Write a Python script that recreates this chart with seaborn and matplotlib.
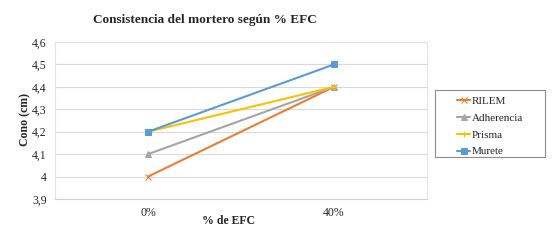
import pandas as pd
import numpy as np
import matplotlib.pyplot as plt
import seaborn as sns
from matplotlib.patches import Rectangle

# Datos
categorias = ["0%", "40%"]
rilem = [4.0, 4.4]
adherencia = [4.1, 4.4]
prisma = [4.2, 4.4]
murete = [4.2, 4.5]

series = {"RILEM": rilem, "Adherencia": adherencia, "Prisma": prisma, "Murete": murete}
colores = {"RILEM": "#ED7D31", "Adherencia": "#A5A5A5", "Prisma": "#FFC000", "Murete": "#5B9BD5"}
marcadores = {"RILEM": "x", "Adherencia": "^", "Prisma": "+", "Murete": "s"}

sns.set_theme(style="white")
plt.rcParams["font.family"] = ["Liberation Serif", "DejaVu Serif"]

fig = plt.figure(figsize=(5.57, 2.42), dpi=100)
ax = fig.add_axes([0.0987, 0.1777, 0.668, 0.6487])

# una serie a la vez (seaborn no mezcla marcadores rellenos y de línea)
for nombre, valores in series.items():
    d = pd.DataFrame({"pos": range(len(valores)), "valor": valores})
    sns.lineplot(
        data=d, x="pos", y="valor", color=colores[nombre], marker=marcadores[nombre],
        markersize=5, markeredgecolor=colores[nombre], linewidth=1.5,
        label=nombre, ax=ax,
    )

ax.set_xlim(-0.5, 1.5)
ax.set_ylim(3.9, 4.6)
ax.set_xticks(range(len(categorias)))
ax.set_xticklabels(categorias, fontsize=8.5)
yt = np.round(np.arange(3.9, 4.61, 0.1), 1)
ax.set_yticks(yt)
ax.set_yticklabels([f"{v:g}".replace(".", ",") for v in yt], fontsize=8.5)
ax.tick_params(axis="x", length=0, pad=6)
ax.tick_params(axis="y", length=0, pad=6)
ax.grid(axis="y", color="#D9D9D9", linewidth=0.8)
for s in ax.spines.values():
    s.set_color("#E3E3E3")
    s.set_linewidth(0.8)
ax.spines["bottom"].set_color("#D0D0D0")

ax.set_xlabel("")
ax.set_ylabel("")
fig.text(25 / 557, 1 - 119 / 242, "Cono (cm)", rotation=90, ha="center", va="center",
         fontsize=8.5, fontweight="bold")
fig.text(229 / 557, 1 - 221 / 242, "% de EFC", ha="center", va="center",
         fontsize=8.5, fontweight="bold")
fig.text(205 / 557, 1 - 20 / 242, "Consistencia del mortero según % EFC", ha="center",
         va="center", fontsize=9.5, fontweight="bold")

handles, labels = ax.get_legend_handles_labels()
ax.get_legend().remove()
fig.patches.append(Rectangle((435 / 557, 1 - 157 / 242), 110 / 557, 67 / 242,
                             transform=fig.transFigure, fill=False,
                             edgecolor="#8C8C8C", linewidth=0.8))
leg = fig.legend(handles, labels, loc="upper left", bbox_to_anchor=(457 / 557, 1 - 96 / 242),
                 fontsize=8, frameon=False, borderpad=0, borderaxespad=0,
                 handlelength=1.2, handletextpad=0.1, labelspacing=0.64,
                 markerscale=0.8)

fig.savefig("out.png", dpi=100)
